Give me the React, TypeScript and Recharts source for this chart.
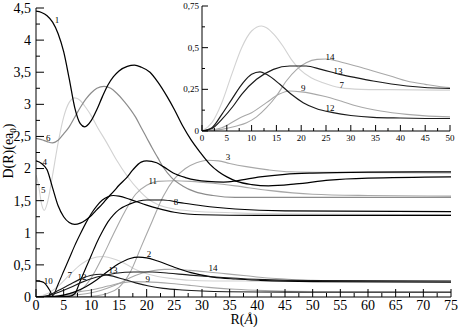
import React from "react";
import { LineChart, Line, XAxis, YAxis, ReferenceDot, CartesianGrid } from "recharts";

type Pt = [number, number];

// R (Å) / D(R) pairs
const C1: Pt[] = [[0, 4.45], [1, 4.43], [2, 4.38], [3, 4.28], [4, 4.1], [5, 3.82], [6, 3.4], [7, 2.95], [8, 2.7], [8.8, 2.65], [10, 2.75], [11, 2.92], [12, 3.12], [13, 3.3], [14, 3.43], [15, 3.52], [16.5, 3.59], [17.8, 3.61], [19, 3.58], [20.6, 3.5], [22, 3.35], [23.7, 3.12], [25, 2.92], [26.6, 2.65], [28, 2.45], [29.6, 2.26], [31.4, 2.07], [33, 1.95], [34.5, 1.87], [36.3, 1.8], [39, 1.75], [42, 1.73], [47, 1.76], [53, 1.82], [60, 1.85], [75, 1.87]];
const C2: Pt[] = [[0, 0], [3, 0.005], [5, 0.03], [7, 0.08], [9, 0.16], [11, 0.27], [13, 0.4], [15, 0.52], [17, 0.6], [18.5, 0.62], [20, 0.61], [22, 0.56], [24.8, 0.47], [28, 0.38], [32, 0.31], [36, 0.28], [40.5, 0.26], [50, 0.24], [75, 0.23]];
const C3: Pt[] = [[0, 0], [8, 0.005], [11, 0.02], [13, 0.06], [15, 0.15], [17, 0.38], [19, 0.78], [21, 1.18], [23, 1.57], [25, 1.84], [27, 2.0], [29, 2.09], [31, 2.13], [33, 2.12], [35, 2.08], [38, 2.03], [42, 1.98], [46, 1.95], [55, 1.94], [75, 1.93]];
const C4: Pt[] = [[0, 2.12], [1, 2.08], [2, 1.98], [3, 1.7], [4, 1.42], [5, 1.25], [6, 1.16], [7, 1.13], [8, 1.15], [9, 1.2], [10, 1.27], [11, 1.36], [12, 1.45], [13, 1.55], [14, 1.64], [15, 1.74], [16.4, 1.86], [17.5, 1.98], [19, 2.1], [20, 2.12], [21.8, 2.09], [23, 2.03], [24.8, 1.93], [27, 1.86], [29, 1.82], [31, 1.8], [33.9, 1.79], [36.3, 1.81], [40.5, 1.87], [45, 1.91], [50, 1.93], [60, 1.945], [75, 1.95]];
const C5: Pt[] = [[0, 1.9], [0.5, 1.72], [1, 1.45], [1.5, 1.35], [2, 1.45], [2.5, 1.65], [3, 1.9], [4, 2.4], [5, 2.8], [6, 3.03], [7, 3.1], [8, 3.06], [9, 2.95], [10, 2.82], [11, 2.66], [12.8, 2.4], [14.5, 2.14], [16.5, 1.88], [18.5, 1.67], [20.2, 1.53], [22, 1.44], [25, 1.37], [28, 1.34], [36, 1.31], [50, 1.29], [75, 1.28]];
const C6: Pt[] = [[0, 2.47], [1, 2.45], [2, 2.42], [3, 2.4], [4, 2.44], [5, 2.54], [6, 2.65], [7, 2.8], [8, 2.95], [9, 3.08], [10, 3.18], [11, 3.25], [12.3, 3.28], [13.5, 3.25], [14.5, 3.18], [16, 3.04], [18, 2.8], [19, 2.64], [20, 2.48], [21, 2.32], [22, 2.17], [23, 2.02], [24.5, 1.86], [26.5, 1.73], [28.7, 1.64], [32, 1.58], [36, 1.55], [50, 1.55], [75, 1.55]];
const C7: Pt[] = [[0, 0], [2, 0.05], [4, 0.17], [6, 0.34], [8, 0.5], [10, 0.6], [12, 0.63], [13, 0.62], [14.5, 0.58], [16.3, 0.51], [18, 0.43], [19.7, 0.37], [22, 0.32], [24.4, 0.29], [27.8, 0.26], [32, 0.25], [38, 0.248], [50, 0.245], [75, 0.24]];
const C8: Pt[] = [[0, 0], [3, 0.003], [6, 0.01], [7, 0.05], [8, 0.25], [9, 0.45], [10, 0.65], [11, 0.85], [12, 1.02], [13, 1.17], [14, 1.28], [15, 1.36], [17, 1.45], [20, 1.51], [23, 1.51], [26, 1.47], [30, 1.42], [36, 1.37], [45, 1.34], [75, 1.33]];
const C9: Pt[] = [[0, 0], [4, 0.02], [7.7, 0.08], [10, 0.11], [13, 0.17], [15.5, 0.22], [17.7, 0.24], [20, 0.235], [24.4, 0.21], [28, 0.18], [31.2, 0.15], [36, 0.12], [41.3, 0.1], [50, 0.085], [75, 0.08]];
const C10: Pt[] = [[0, 0.25], [1, 0.24], [1.5, 0.22], [2, 0.17], [2.5, 0.1], [3, 0.02], [4, 0.2], [5, 0.4], [6, 0.6], [7, 0.8], [8, 0.98], [9, 1.15], [10, 1.3], [11, 1.42], [12, 1.51], [13, 1.56], [14, 1.58], [15, 1.57], [17, 1.52], [20, 1.43], [22, 1.38], [25, 1.32], [30, 1.28], [40, 1.27], [75, 1.27]];
const C11: Pt[] = [[0, 0], [4, 0.01], [6, 0.03], [8, 0.1], [10, 0.3], [12, 0.62], [14, 0.98], [16, 1.32], [18, 1.6], [20, 1.74], [22, 1.8], [25, 1.81], [28, 1.8], [32, 1.77], [36, 1.73], [42, 1.66], [50, 1.6], [60, 1.58], [75, 1.57]];
const C12: Pt[] = [[0, 0], [2, 0.02], [4, 0.1], [6, 0.19], [8.3, 0.29], [10, 0.34], [11.7, 0.355], [13, 0.34], [15.7, 0.28], [18, 0.22], [20.4, 0.17], [23, 0.135], [26.4, 0.11], [30, 0.093], [34.5, 0.082], [40, 0.078], [50, 0.075], [75, 0.075]];
const C13: Pt[] = [[0, 0], [2, 0.015], [4, 0.07], [6.3, 0.15], [8, 0.22], [11, 0.31], [14.4, 0.37], [17.7, 0.39], [21, 0.39], [24, 0.37], [27.8, 0.34], [31, 0.32], [34.5, 0.3], [41.3, 0.27], [50, 0.255], [75, 0.25]];
const C14: Pt[] = [[0, 0], [4, 0.01], [7, 0.03], [9, 0.05], [11, 0.085], [13, 0.14], [15, 0.21], [17, 0.3], [19.1, 0.37], [21, 0.41], [23.2, 0.43], [25, 0.432], [27.8, 0.415], [31, 0.39], [34.5, 0.36], [38, 0.33], [41.3, 0.3], [45, 0.28], [50, 0.26], [60, 0.25], [75, 0.245]];

const MAIN_X_TICKS = [0, 2.5, 5, 7.5, 10, 12.5, 15, 17.5, 20, 22.5, 25, 27.5, 30, 32.5, 35, 37.5, 40, 42.5, 45, 47.5, 50, 52.5, 55, 57.5, 60, 62.5, 65, 67.5, 70, 72.5, 75];
const MAIN_Y_TICKS = [0, 0.25, 0.5, 0.75, 1, 1.25, 1.5, 1.75, 2, 2.25, 2.5, 2.75, 3, 3.25, 3.5, 3.75, 4, 4.25, 4.5];
const INSET_X_TICKS = [0, 2.5, 5, 7.5, 10, 12.5, 15, 17.5, 20, 22.5, 25, 27.5, 30, 32.5, 35, 37.5, 40, 42.5, 45, 47.5, 50];
const INSET_Y_TICKS = [0, 0.125, 0.25, 0.375, 0.5, 0.625, 0.75];

const BLACK = "#000";
const DARK = "#1a1a1a";
const MID = "#8c8c8c";
const GREY = "#a8a8a8";
const LIGHT = "#d2d2d2";

const MAIN_SERIES: { id: string; pts: Pt[]; color: string; w: number }[] = [
  { id: "c5", pts: C5, color: LIGHT, w: 1.1 },
  { id: "c7", pts: C7, color: LIGHT, w: 1.1 },
  { id: "c3", pts: C3, color: GREY, w: 1.1 },
  { id: "c11", pts: C11, color: GREY, w: 1.1 },
  { id: "c14", pts: C14, color: GREY, w: 1.1 },
  { id: "c9", pts: C9, color: GREY, w: 1.1 },
  { id: "c6", pts: C6, color: MID, w: 1.2 },
  { id: "c1", pts: C1, color: BLACK, w: 1.25 },
  { id: "c4", pts: C4, color: BLACK, w: 1.25 },
  { id: "c8", pts: C8, color: BLACK, w: 1.15 },
  { id: "c10", pts: C10, color: BLACK, w: 1.15 },
  { id: "c2", pts: C2, color: BLACK, w: 1.15 },
  { id: "c12", pts: C12, color: DARK, w: 1.1 },
  { id: "c13", pts: C13, color: DARK, w: 1.1 },
];

const INSET_SERIES: { id: string; pts: Pt[]; color: string; w: number }[] = [
  { id: "i7", pts: C7, color: LIGHT, w: 1.1 },
  { id: "i9", pts: C9, color: GREY, w: 1.1 },
  { id: "i14", pts: C14, color: GREY, w: 1.1 },
  { id: "i12", pts: C12, color: DARK, w: 1.2 },
  { id: "i13", pts: C13, color: DARK, w: 1.2 },
];

// curve numbers, placed in data units
const MAIN_TAGS: [string, number, number][] = [
  ["1", 3.8, 4.31], ["6", 2.2, 2.48], ["4", 1.6, 2.1], ["5", 1.3, 1.67], ["10", 2.2, 0.25],
  ["7", 6.1, 0.34], ["12", 8.3, 0.31], ["13", 13.9, 0.42], ["9", 20.2, 0.28], ["2", 20.4, 0.67],
  ["11", 21.1, 1.81], ["8", 25.3, 1.48], ["3", 34.7, 2.18], ["14", 32, 0.45],
];
const INSET_TAGS: [string, number, number][] = [
  ["14", 25.8, 0.445], ["13", 27.4, 0.36], ["7", 28.2, 0.28], ["9", 20.4, 0.26], ["12", 25.8, 0.14],
];

const SERIF = "'Liberation Serif', 'DejaVu Serif', serif";

type Side = "bottom" | "top" | "left" | "right";

function tickRenderer(side: Side, step: number, big: number, small: number, fs: number, showLabel: boolean, gap: number) {
  return (p: any) => {
    const { x, y, payload } = p;
    const val = payload.value as number;
    const major = Math.abs(val / step - Math.round(val / step)) < 1e-6;
    const len = major ? big : small;
    let x2 = x;
    let y2 = y;
    if (side === "bottom") y2 = y - len;
    if (side === "top") y2 = y + len;
    if (side === "left") x2 = x + len;
    if (side === "right") x2 = x - len;
    const txt = String(val).replace(".", ",");
    return (
      <g>
        <line x1={x} y1={y} x2={x2} y2={y2} stroke="#000" strokeWidth={1} />
        {showLabel && major && side === "bottom" && (
          <text x={x} y={y + gap} textAnchor="middle" fontSize={fs} fontFamily={SERIF} fill="#000">
            {txt}
          </text>
        )}
        {showLabel && major && side === "left" && (
          <text x={x - gap} y={y} dy="0.35em" textAnchor="end" fontSize={fs} fontFamily={SERIF} fill="#000">
            {txt}
          </text>
        )}
      </g>
    );
  };
}

const rows = (pts: Pt[]) => pts.map(([r, v]) => ({ r, v }));

function Tag({ text, r, v, fs, xId, yId }: { text: string; r: number; v: number; fs: number; xId: string; yId: string }) {
  return (
    <ReferenceDot
      x={r}
      y={v}
      r={0}
      xAxisId={xId}
      yAxisId={yId}
      fill="none"
      stroke="none"
      ifOverflow="visible"
      label={{ value: text, position: "center", fontSize: fs, fill: "#000", stroke: "none", fontFamily: SERIF }}
    />
  );
}

function MainChart() {
  return (
    <LineChart width={458} height={327} margin={{ top: 8, right: 7, bottom: 0, left: 0 }}>
      <XAxis xAxisId="b" type="number" dataKey="r" domain={[0, 75]} ticks={MAIN_X_TICKS} interval={0} height={30}
        tickSize={0} tickMargin={0} tickLine={false} axisLine={{ stroke: "#000" }} allowDataOverflow
        tick={tickRenderer("bottom", 5, 8, 4, 14, true, 13)} />
      <XAxis xAxisId="t" orientation="top" type="number" dataKey="r" domain={[0, 75]} ticks={MAIN_X_TICKS} interval={0} height={0}
        tickSize={0} tickMargin={0} tickLine={false} axisLine={{ stroke: "#000" }}
        tick={tickRenderer("top", 5, 8, 4, 14, false, 0)} />
      <YAxis yAxisId="l" type="number" domain={[0, 4.5]} ticks={MAIN_Y_TICKS} interval={0} width={36}
        tickSize={0} tickMargin={0} tickLine={false} axisLine={{ stroke: "#000" }} allowDataOverflow
        tick={tickRenderer("left", 0.5, 8, 4, 14, true, 5)} />
      <YAxis yAxisId="r" orientation="right" type="number" domain={[0, 4.5]} ticks={MAIN_Y_TICKS} interval={0} width={0}
        tickSize={0} tickMargin={0} tickLine={false} axisLine={{ stroke: "#000" }}
        tick={tickRenderer("right", 0.5, 8, 4, 14, false, 0)} />
      {MAIN_SERIES.map((s) => (
        <Line key={s.id} xAxisId="b" yAxisId="l" data={rows(s.pts)} dataKey="v" type="monotone"
          stroke={s.color} strokeWidth={s.w} dot={false} activeDot={false} isAnimationActive={false} />
      ))}
      {MAIN_TAGS.map(([t, r, v]) => (
        <Tag key={"m" + t} text={t} r={r} v={v} fs={9} xId="b" yId="l" />
      ))}
    </LineChart>
  );
}

function InsetChart() {
  return (
    <LineChart width={298} height={150} margin={{ top: 6, right: 8, bottom: 0, left: 0 }}>
      <CartesianGrid xAxisId="b" yAxisId="l" horizontal={false} vertical={false} fill="#fff" fillOpacity={1} />
      <XAxis xAxisId="b" type="number" dataKey="r" domain={[0, 50]} ticks={INSET_X_TICKS} interval={0} height={19}
        tickSize={0} tickMargin={0} tickLine={false} axisLine={{ stroke: "#000" }} allowDataOverflow
        tick={tickRenderer("bottom", 5, 6, 3, 9, true, 9.5)} />
      <XAxis xAxisId="t" orientation="top" type="number" dataKey="r" domain={[0, 50]} ticks={INSET_X_TICKS} interval={0} height={0}
        tickSize={0} tickMargin={0} tickLine={false} axisLine={{ stroke: "#000" }}
        tick={tickRenderer("top", 5, 6, 3, 9, false, 0)} />
      <YAxis yAxisId="l" type="number" domain={[0, 0.75]} ticks={INSET_Y_TICKS} interval={0} width={42}
        tickSize={0} tickMargin={0} tickLine={false} axisLine={{ stroke: "#000" }} allowDataOverflow
        tick={tickRenderer("left", 0.25, 6, 3, 9, true, 3)} />
      <YAxis yAxisId="r" orientation="right" type="number" domain={[0, 0.75]} ticks={INSET_Y_TICKS} interval={0} width={0}
        tickSize={0} tickMargin={0} tickLine={false} axisLine={{ stroke: "#000" }}
        tick={tickRenderer("right", 0.25, 6, 3, 9, false, 0)} />
      {INSET_SERIES.map((s) => (
        <Line key={s.id} xAxisId="b" yAxisId="l" data={rows(s.pts)} dataKey="v" type="monotone"
          stroke={s.color} strokeWidth={s.w} dot={false} activeDot={false} isAnimationActive={false} />
      ))}
      {INSET_TAGS.map(([t, r, v]) => (
        <Tag key={"i" + t} text={t} r={r} v={v} fs={9} xId="b" yId="l" />
      ))}
    </LineChart>
  );
}

export default function App() {
  return (
    <div style={{ position: "absolute", left: 0, top: 0, width: 458, height: 327, background: "#fff", fontFamily: SERIF, overflow: "hidden" }}>
      <div style={{ position: "absolute", left: 0, top: 0 }}>
        <MainChart />
      </div>
      <div style={{ position: "absolute", left: 160, top: 0 }}>
        <InsetChart />
      </div>
      <div
        style={{
          position: "absolute", left: 9, top: 151, transform: "translate(-50%, -50%) rotate(-90deg)",
          whiteSpace: "nowrap", fontSize: 14, lineHeight: 1, color: "#000",
        }}
      >
        D(R)(ea<span style={{ fontSize: 9, position: "relative", top: 3 }}>0</span>)
      </div>
      <div
        style={{
          position: "absolute", left: 244, top: 313, transform: "translateX(-50%)",
          whiteSpace: "nowrap", fontSize: 14, lineHeight: 1, color: "#000",
        }}
      >
        R(<i>Å</i>)
      </div>
    </div>
  );
}
